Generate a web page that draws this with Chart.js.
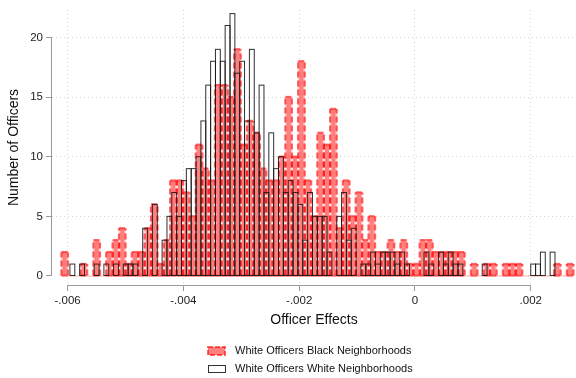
<!DOCTYPE html>
<html>
<head>
<meta charset="utf-8">
<script src="https://cdn.jsdelivr.net/npm/chart.js@4.4.1/dist/chart.umd.min.js"></script>
<style>
  html, body { margin: 0; padding: 0; background: #ffffff; }
  #wrap { width: 576px; height: 378px; position: relative; }
</style>
</head>
<body>
<div id="wrap"><canvas id="chart" width="576" height="378"></canvas></div>
<script>
// Histogram of estimated officer effects, two groups of white officers.
const seriesNames = ['White Officers Black Neighborhoods', 'White Officers White Neighborhoods'];

// Black-neighbourhood histogram: first bin edge, bin width, counts per bin
const blackNbhdStart = -0.006105;
const blackNbhdWidth = 0.0001105;
const blackNbhdCounts = [
  2, 0, 0, 1, 0, 3, 0, 2, 3, 4,
  1, 2, 2, 4, 6, 1, 3, 8, 8, 7,
  5, 11, 9, 8, 16, 16, 15, 19, 11, 13,
  12, 9, 8, 8, 10, 15, 10, 18, 8, 5,
  12, 11, 14, 4, 8, 5, 7, 3, 5, 2,
  2, 3, 2, 3, 1, 1, 3, 3, 2, 2,
  2, 2, 2, 0, 1, 0, 1, 1, 0, 1,
  1, 1, 0, 0, 0, 0, 0, 1, 0, 1
];

// White-neighbourhood histogram: first bin edge, bin width, counts per bin
const whiteNbhdStart = -0.005959;
const whiteNbhdWidth = 0.00008377;
const whiteNbhdCounts = [
  1, 0, 1, 0, 0, 1, 0, 1, 0, 1,
  0, 1, 1, 1, 0, 4, 0, 6, 0, 3,
  5, 7, 5, 8, 9, 9, 10, 13, 16, 18,
  19, 18, 21, 22, 17, 18, 13, 19, 12, 16,
  7, 12, 9, 10, 7, 8, 7, 6, 3, 7,
  5, 5, 5, 2, 0, 5, 7, 3, 4, 0,
  1, 1, 2, 1, 2, 2, 2, 1, 2, 1,
  0, 0, 0, 2, 1, 0, 2, 1, 2, 1,
  1, 0, 0, 0, 0, 1, 0, 0, 0, 0,
  0, 0, 0, 0, 0, 1, 1, 2, 0, 2
];

const xTickValues = [-0.006, -0.004, -0.002, 0, 0.002];
const xTickLabels = ['-.006', '-.004', '-.002', '0', '.002'];
const yTickValues = [0, 5, 10, 15, 20];

const xRange = { min: -0.006269, max: 0.002781 };
const yRange = { min: -0.755, max: 22.3 };

function binPoints(start, width, counts) {
  return counts.map((c, i) => ({ x: start + (i + 0.5) * width, y: c }));
}

const FONT = "'Liberation Sans', Arial, Helvetica, sans-serif";
Chart.defaults.font.family = FONT;

const RED_FILL = 'rgba(255,0,0,0.5)';
const RED_LINE = 'rgba(255,0,0,0.6)';
const RED_GAP = 'rgba(255,255,255,0.55)';
const DARK_LINE = 'rgba(25,25,25,0.9)';
const AXIS_GRAY = '#9a9a9a';
const GRID_GRAY = '#d4d4d4';

// Bar edges listed from the baseline up, so dashes on shared edges line up
function barEdges(l, r, top, base) {
  return [
    [l, base, l, top],
    [r, base, r, top],
    [l, top, r, top],
    [l, base, r, base]
  ];
}
function strokeEdges(ctx, edges) {
  edges.forEach(e => { ctx.beginPath(); ctx.moveTo(e[0], e[1]); ctx.lineTo(e[2], e[3]); ctx.stroke(); });
}

const outlinePlugin = {
  id: 'histOutlines',
  afterDatasetsDraw(chart) {
    const ctx = chart.ctx;
    ctx.save();
    const redBars = chart.getDatasetMeta(0).data
      .map((el, i) => ({ p: el.getProps(['x', 'y', 'base', 'width'], true), c: blackNbhdCounts[i] }))
      .filter(b => b.c > 0)
      .map(b => barEdges(b.p.x - b.p.width / 2, b.p.x + b.p.width / 2, b.p.y, b.p.base));

    ctx.lineWidth = 2.4;
    ctx.setLineDash([]);
    ctx.strokeStyle = RED_GAP;
    redBars.forEach(edges => strokeEdges(ctx, edges));
    ctx.setLineDash([6, 3]);
    ctx.strokeStyle = RED_LINE;
    redBars.forEach(edges => strokeEdges(ctx, edges));

    ctx.setLineDash([]);
    ctx.lineWidth = 1;
    ctx.strokeStyle = DARK_LINE;
    chart.getDatasetMeta(1).data.forEach((el, i) => {
      if (!whiteNbhdCounts[i]) return;
      const p = el.getProps(['x', 'y', 'base', 'width'], true);
      ctx.strokeRect(p.x - p.width / 2, p.y, p.width, p.base - p.y);
    });
    ctx.restore();
  },
  afterDraw(chart) {
    const ctx = chart.ctx;
    const xs = chart.scales.x, ys = chart.scales.y;
    const area = chart.chartArea;
    ctx.save();
    // axis lines spanning the labelled tick range
    ctx.strokeStyle = AXIS_GRAY;
    ctx.lineWidth = 1;
    ctx.setLineDash([]);
    ctx.beginPath();
    ctx.moveTo(area.left - 0.5, ys.getPixelForValue(yTickValues[0]));
    ctx.lineTo(area.left - 0.5, ys.getPixelForValue(yTickValues[yTickValues.length - 1]));
    ctx.stroke();
    ctx.beginPath();
    ctx.moveTo(xs.getPixelForValue(xTickValues[0]), area.bottom + 0.5);
    ctx.lineTo(xs.getPixelForValue(xTickValues[xTickValues.length - 1]), area.bottom + 0.5);
    ctx.stroke();

    // legend
    const lx = 208, sw = 17;
    const rows = [351, 369];
    ctx.fillStyle = RED_FILL;
    ctx.fillRect(lx, rows[0] - 4, sw, 8);
    ctx.lineWidth = 2;
    ctx.setLineDash([5, 2]);
    ctx.strokeStyle = RED_LINE;
    ctx.strokeRect(lx, rows[0] - 4, sw, 8);
    ctx.setLineDash([]);
    ctx.lineWidth = 1;
    ctx.strokeStyle = '#333333';
    ctx.fillStyle = '#ffffff';
    ctx.fillRect(lx + 0.5, rows[1] - 3.5, sw, 7);
    ctx.strokeRect(lx + 0.5, rows[1] - 3.5, sw, 7);
    ctx.fillStyle = '#111111';
    ctx.font = '11px ' + FONT;
    ctx.textBaseline = 'middle';
    ctx.textAlign = 'left';
    ctx.fillText(seriesNames[0], 235, rows[0]);
    ctx.fillText(seriesNames[1], 235, rows[1]);
    ctx.restore();
  }
};

new Chart(document.getElementById('chart'), {
  type: 'bar',
  data: {
    datasets: [
      {
        label: seriesNames[0],
        data: binPoints(blackNbhdStart, blackNbhdWidth, blackNbhdCounts),
        xAxisID: 'x',
        backgroundColor: RED_FILL,
        borderWidth: 0,
        barPercentage: 1,
        categoryPercentage: 1,
        grouped: false
      },
      {
        label: seriesNames[1],
        data: binPoints(whiteNbhdStart, whiteNbhdWidth, whiteNbhdCounts),
        xAxisID: 'x2',
        backgroundColor: 'rgba(0,0,0,0)',
        borderWidth: 0,
        barPercentage: 1,
        categoryPercentage: 1,
        grouped: false
      }
    ]
  },
  options: {
    responsive: false,
    animation: false,
    devicePixelRatio: 1,
    events: [],
    layout: { padding: { top: 10, right: 0, bottom: 48, left: 0 } },
    plugins: { legend: { display: false }, tooltip: { enabled: false } },
    scales: {
      x: {
        type: 'linear',
        position: 'bottom',
        min: xRange.min,
        max: xRange.max,
        offset: false,
        afterBuildTicks: s => { s.ticks = xTickValues.map(v => ({ value: v })); },
        afterFit: s => { s.height = 45; },
        ticks: {
          autoSkip: false,
          maxRotation: 0,
          padding: 3,
          color: '#222222',
          font: { size: 11.5 },
          callback: (v, i) => xTickLabels[i]
        },
        grid: { color: GRID_GRAY, lineWidth: 1, tickLength: 6, tickColor: AXIS_GRAY, offset: false },
        border: { display: false, dash: [1, 3] },
        title: { display: true, text: 'Officer Effects', color: '#111111', font: { size: 14 }, padding: { top: 0, bottom: 1 } }
      },
      x2: {
        type: 'linear',
        display: false,
        min: xRange.min,
        max: xRange.max,
        offset: false,
        grid: { display: false }
      },
      y: {
        min: yRange.min,
        max: yRange.max,
        afterBuildTicks: s => { s.ticks = yTickValues.map(v => ({ value: v })); },
        afterFit: s => { s.width = 52; },
        ticks: { padding: 3, color: '#222222', font: { size: 11.5 }, callback: v => String(v) },
        grid: {
          color: c => (c.tick && c.tick.value === 0) ? 'rgba(0,0,0,0)' : GRID_GRAY,
          lineWidth: 1,
          tickLength: 6,
          tickColor: AXIS_GRAY
        },
        border: { display: false, dash: [1, 3] },
        title: { display: true, text: 'Number of Officers', color: '#111111', font: { size: 14 }, padding: { top: 6, bottom: 0 } }
      }
    }
  },
  plugins: [outlinePlugin]
});
</script>
</body>
</html>
